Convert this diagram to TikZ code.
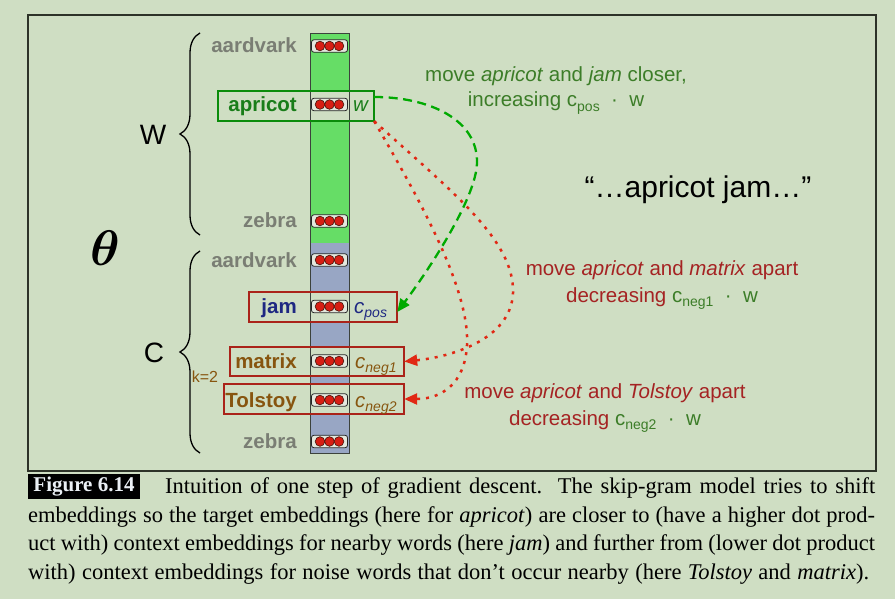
\documentclass[tikz,border=0pt]{standalone}
\usepackage{fontspec}
\setmainfont{Liberation Serif}
\newfontfamily\hv{Liberation Sans}
\usepackage{bm}
\usetikzlibrary{arrows.meta,decorations.pathreplacing}

\definecolor{bg}{RGB}{207,222,195}
\definecolor{framec}{RGB}{45,50,40}
\definecolor{colgreen}{RGB}{102,221,102}
\definecolor{colblue}{RGB}{152,166,196}
\definecolor{colline}{RGB}{60,66,60}
\definecolor{lblgray}{RGB}{122,126,116}
\definecolor{apgreen}{RGB}{25,125,25}
\definecolor{boxgreen}{RGB}{10,140,10}
\definecolor{boxred}{RGB}{170,35,25}
\definecolor{jamblue}{RGB}{30,40,130}
\definecolor{brownlbl}{RGB}{135,85,15}
\definecolor{dotred}{RGB}{215,30,20}
\definecolor{dotedge}{RGB}{70,20,10}
\definecolor{dotboxfill}{RGB}{228,232,222}
\definecolor{annogreen}{RGB}{60,125,40}
\definecolor{annored}{RGB}{165,35,35}
\definecolor{arrgreen}{RGB}{0,170,0}
\definecolor{arrred}{RGB}{225,40,20}

\newcommand\mysub[1]{\raisebox{-4.5pt}{\fontsize{14}{14}\selectfont #1}}

\tikzset{
  lbl/.style={font=\hv\bfseries\fontsize{20.5}{24}\selectfont, anchor=base east, inner sep=0},
  vec/.style={font=\hv\itshape\fontsize{20.5}{24}\selectfont, anchor=base west, inner sep=0},
  wordbox/.style={fill=bg, inner sep=0, minimum height=30pt},
  wordborder/.style={line width=2.2pt},
  dotbox/.style={draw=black!85, fill=dotboxfill, rounded corners=2.5pt, minimum width=36pt, minimum height=12.5pt, inner sep=0, line width=0.8pt},
  reddot/.style={fill=dotred, draw=dotedge, line width=0.6pt},
  anno/.style={font=\hv\fontsize{20.5}{24}\selectfont, anchor=base, inner sep=0},
  capline/.style={font=\fontsize{22.5}{26}\selectfont, anchor=base west, inner sep=0, text=black},
  brc/.style={decorate, decoration={brace, amplitude=20pt}, line width=1.3pt},
  greenarrow/.style={arrgreen, line width=2.3pt, dash pattern=on 9pt off 5.5pt, -{Triangle[length=13pt,width=11pt]}},
  redarrow/.style={arrred, line width=2.5pt, dash pattern=on 3pt off 6pt, -{Triangle[length=13pt,width=11pt]}},
}

\newcommand\dotrow[2]{%
  \node[dotbox] (#1) at (329.5,#2) {};
  \foreach \dx in {-9.5,0,9.5} { \filldraw[reddot] ([xshift=\dx pt]#1.center) circle (4.8pt); }
}

\begin{document}
\begin{tikzpicture}[x=1pt,y=-1pt]
% background and bounding box
\fill[bg] (0,0) rectangle (895,599);
\useasboundingbox (0,0) rectangle (895,599);

% frame
\draw[framec, line width=1.5pt] (28,15) rectangle (876,471);

% column
\fill[colgreen] (310,33) rectangle (349,243);
\fill[colblue] (310,243) rectangle (349,453);

% word boxes (fill)
\node[wordbox, minimum width=156pt] (apbox) at (296,106) {};
\node[wordbox, minimum width=148pt] (jambox) at (323,307) {};
\node[wordbox, minimum width=174pt, minimum height=29pt] (matbox) at (317,361.5) {};
\node[wordbox, minimum width=180pt] (tolbox) at (314,399) {};

% column outline
\draw[colline, line width=0.9pt] (310,33) rectangle (349,453);

% word box borders
\draw[wordborder, boxgreen] (apbox.north west) rectangle (apbox.south east);
\draw[wordborder, boxred] (jambox.north west) rectangle (jambox.south east);
\draw[wordborder, boxred] (matbox.north west) rectangle (matbox.south east);
\draw[wordborder, boxred] (tolbox.north west) rectangle (tolbox.south east);

% dot rows
\dotrow{d1}{46}
\dotrow{d2}{104.5}
\dotrow{d3}{221}
\dotrow{d4}{260}
\dotrow{d5}{306.5}
\dotrow{d6}{361}
\dotrow{d7}{400}
\dotrow{d8}{441.5}

% word labels
\node[lbl, text=lblgray] (l1) at (297,53) {aardvark};
\node[lbl, text=apgreen] (l2) at (297,112) {apricot};
\node[lbl, text=lblgray] (l3) at (297,228) {zebra};
\node[lbl, text=lblgray] (l4) at (297,267) {aardvark};
\node[lbl, text=jamblue] (l5) at (297,313) {jam};
\node[lbl, text=brownlbl] (l6) at (297,368) {matrix};
\node[lbl, text=brownlbl] (l7) at (297,407) {Tolstoy};
\node[lbl, text=lblgray] (l8) at (297,448) {zebra};

% vector labels
\node[vec, text=apgreen] (vw) at (353,112) {w};
\node[vec, text=jamblue] (vc) at (354,313) {c\mysub{pos}};
\node[vec, text=brownlbl] (vn1) at (355,368) {c\mysub{neg1}};
\node[vec, text=brownlbl] (vn2) at (355,407) {c\mysub{neg2}};

% braces
\draw[brc] (200,235) -- (200,33);
\draw[brc] (200,453) -- (200,251);
\node[font=\hv\fontsize{28}{30}\selectfont, inner sep=0] (W) at (153,135) {W};
\node[font=\hv\fontsize{28}{30}\selectfont, inner sep=0] (C) at (154,353) {C};
\node[font=\hv\fontsize{16}{18}\selectfont, text=brownlbl, inner sep=0] (k) at (205,377) {k=2};
\node[inner sep=0] (theta) at (105,248) {\scalebox{5}{$\bm{\theta}$}};

% annotations
\node[anno, text=annogreen] (g1) at (556,82) {move \textit{apricot} and \textit{jam} closer,};
\node[anno, text=annogreen] (g2) at (556,107) {increasing c\mysub{pos}\ \ ·\ \ w};
\node[anno, font=\hv\fontsize{30}{32}\selectfont, text=black] (quote) at (698,197) {“…apricot jam…”};
\node[anno, text=annored] (r1) at (662,275) {move \textit{apricot} and \textit{matrix} apart};
\node[anno, text=annored] (r2) at (662,302) {decreasing {\color{annogreen}c\mysub{neg1}\ \ ·\ \ w}};
\node[anno, text=annored] (r3) at (605,398) {move \textit{apricot} and \textit{Tolstoy} apart};
\node[anno, text=annored] (r4) at (605,425) {decreasing {\color{annogreen}c\mysub{neg2}\ \ ·\ \ w}};

% arrows
\draw[greenarrow] ([yshift=9pt]apbox.east) .. controls (430,97) and (478,120) .. (477,163)
  .. controls (476,200) and (425,275) .. ([yshift=-5pt]jambox.east);
\draw[redarrow] (apbox.south east) .. controls (450,190) and (515,240) .. (513,293)
  .. controls (511,340) and (450,357) .. (matbox.east);
\draw[redarrow] (apbox.south east) .. controls (420,200) and (470,290) .. (467,345)
  .. controls (465,385) and (440,399) .. (tolbox.east);

% caption
\node[fill=black, text={rgb,255:red,235;green,240;blue,245}, font=\bfseries\fontsize{21}{24}\selectfont, minimum width=112pt, minimum height=25pt, inner sep=0] (figlbl) at (84,486.5) {Figure 6.14};
\node[capline] (c1) at (165,493.5) {\makebox[710pt][s]{Intuition of one step of gradient descent.\ \ The skip-gram model tries to shift}};
\node[capline] (c2) at (28,522) {\makebox[847pt][s]{embeddings so the target embeddings (here for \textit{apricot}) are closer to (have a higher dot prod-}};
\node[capline] (c3) at (28,550.5) {\makebox[847pt][s]{uct with) context embeddings for nearby words (here \textit{jam}) and further from (lower dot product}};
\node[capline] (c4) at (28,579) {\makebox[841pt][s]{with) context embeddings for noise words that don’t occur nearby (here \textit{Tolstoy} and \textit{matrix}).}};
\end{tikzpicture}
\end{document}
